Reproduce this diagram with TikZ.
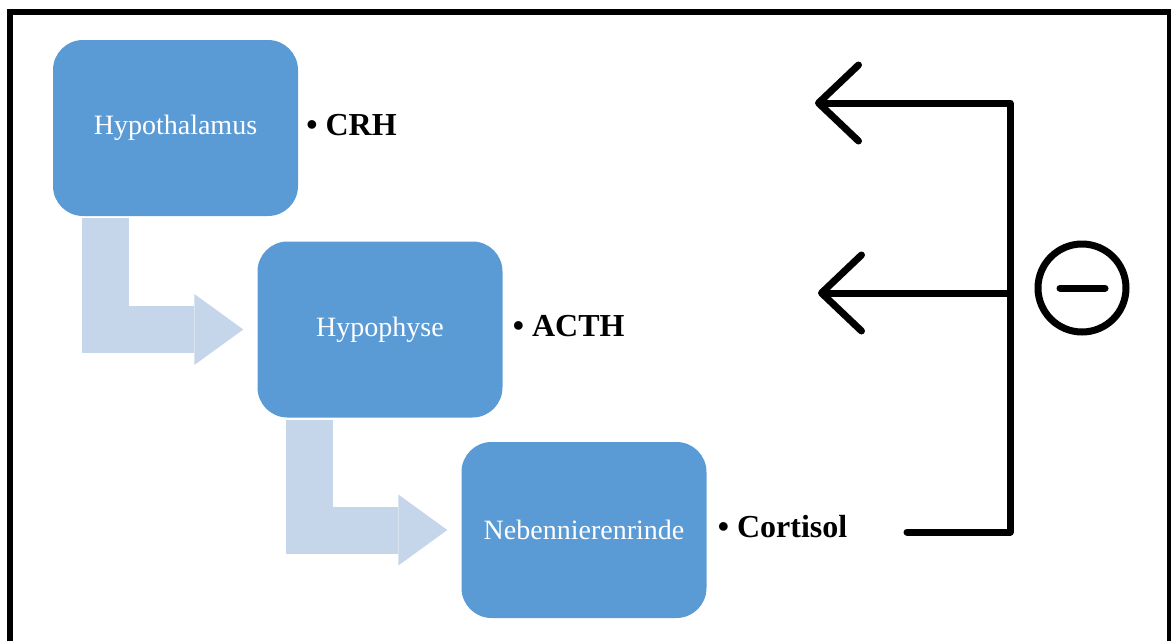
\documentclass[tikz,border=0pt]{standalone}
\usepackage{fontspec}
\setmainfont{Liberation Serif}
\usetikzlibrary{positioning,calc,arrows.meta}
\definecolor{organblau}{HTML}{5B9BD5}
\definecolor{pfeilblau}{HTML}{C5D5EA}

\begin{document}
\begin{tikzpicture}[
        x=1pt, y=-1pt, % Koordinaten in Pixeln, y nach unten
        organ/.style = {rectangle, rounded corners=30pt, fill=organblau, text=white, minimum width=245pt, minimum height=176pt, font=\fontsize{28}{34}\selectfont}, % Kästen
        hormon/.style = {inner sep=0pt, font=\fontsize{32}{38}\selectfont\bfseries}, % Hormone
        weg/.style = {draw=pfeilblau, line width=47pt, -{Triangle[width=71pt, length=49pt, line width=0pt]}, shorten >=14pt},
        rueck/.style = {line width=7pt, line cap=round, line join=round},
        spitze/.style = {-{Straight Barb[length=40pt, width=76pt, round]}},
    ]
    \useasboundingbox (0,0) rectangle (1171,641);

    % Rahmen (unten abgeschnitten)
    \draw[line width=6.5pt] (10,641) -- (10,12) -- (1170,12) -- (1170,641);

    \node[organ] (hyp) at (175.5,128) {Hypothalamus};
    \node[organ] (hypo) at (380,329.5) {Hypophyse};
    \node[organ] (nnr) at (584,530) {Nebennierenrinde};

    \node[hormon, right=8pt of hyp, yshift=3pt] (crh) {\textbullet\ CRH};
    \node[hormon, right=10pt of hypo, yshift=3pt] (acth) {\textbullet\ ACTH};
    \node[hormon, right=11pt of nnr, yshift=3pt] (cort) {\textbullet\ Cortisol};

    \draw[weg] ($(hyp.south west)+(52.5,2)$) |- (hypo.west);
    \draw[weg] ($(hypo.south west)+(52.5,2)$) |- (nnr.west);

    % Rückkopplung
    \coordinate (ft) at (1010,103);
    \coordinate (fm) at (1010,293);
    \coordinate (fb) at (1010,532);
    \coordinate (ct) at (815,103);
    \coordinate (cm) at (818,293);
    \coordinate (cs) at (907,532);
    \draw[rueck, spitze] (cs) -- (fb) -- (ft) -- (ct);
    \draw[rueck, spitze] (fm) -- (cm);

    \node[draw, circle, line width=7pt, minimum size=88pt, inner sep=0pt] (hemm) at (1082,288) {};
    \draw[rueck] ($(hemm.center)+(-22,0)$) -- ($(hemm.center)+(23,0)$);
\end{tikzpicture}
\end{document}
